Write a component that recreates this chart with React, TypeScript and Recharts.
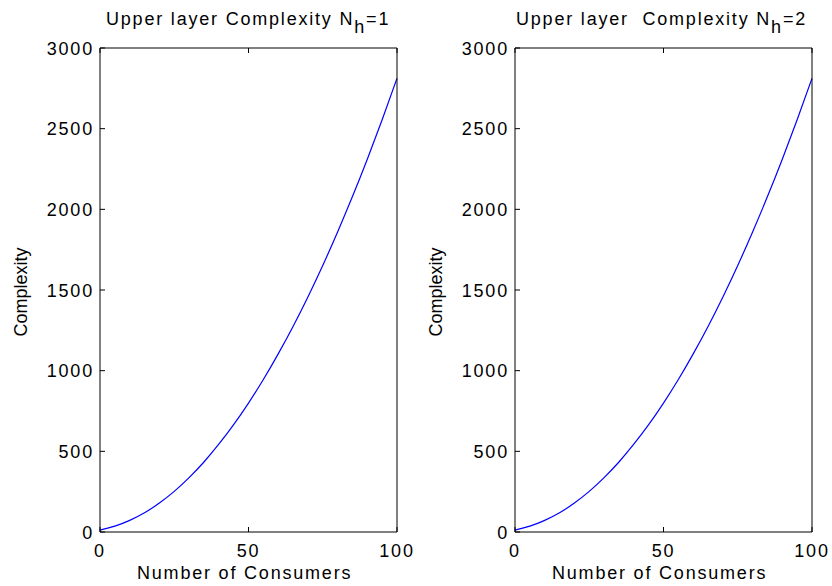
import { LineChart, Line, XAxis, YAxis } from "recharts";

const CONSUMERS = [0, 5, 10, 15, 20, 25, 30, 35, 40, 45, 50, 55, 60, 65, 70, 75, 80, 85, 90, 95, 100];
const COMPLEXITY_NH1 = [12, 36, 72, 119, 180, 252, 337, 434, 544, 665, 799, 945, 1104, 1274, 1457, 1652, 1860, 2079, 2311, 2555, 2812];
const COMPLEXITY_NH2 = [12, 36, 72, 119, 180, 252, 337, 434, 544, 665, 799, 945, 1104, 1274, 1457, 1652, 1860, 2079, 2311, 2555, 2812];
const X_TICKS = [0, 50, 100];
const Y_TICKS = [0, 500, 1000, 1500, 2000, 2500, 3000];

const FONT = '"Liberation Sans", Arial, Helvetica, sans-serif';
const W = 416;
const H = 586;

const txt = { fill: "#000", fontSize: 18, fontFamily: FONT, letterSpacing: 1.8 };

const XTick = ({ x, y, payload }: any) => (
    <text x={x} y={y + 13} textAnchor="middle" {...txt}>{payload.value}</text>
);

const YTick = ({ x, y, payload }: any) => (
    <text x={x} y={y + 6.5} textAnchor="end" {...txt}>{payload.value}</text>
);

const NoTick = () => <g />;

interface PanelProps {
    title: string;
    nh: string;
    values: number[];
    left: number;
    titleX: number;
}

function Panel({ title, nh, values, left, titleX }: PanelProps) {
    const data = CONSUMERS.map((n, i) => ({ n, c: values[i] }));
    return (
        <div style={{ position: "absolute", left, top: 0 }}>
            <LineChart width={W} height={H} data={data} margin={{ top: 47, right: 18, bottom: 24, left: 40 }}>
                <XAxis
                    dataKey="n"
                    type="number"
                    domain={[0, 100]}
                    ticks={X_TICKS}
                    height={30}
                    tickSize={-5}
                    tickMargin={17}
                    tick={<XTick />}
                    axisLine={{ stroke: "#000" }}
                    tickLine={{ stroke: "#000" }}
                    label={() => (
                        <text x={137} y={579} {...txt}>Number of Consumers</text>
                    )}
                />
                <XAxis
                    xAxisId="top"
                    orientation="top"
                    dataKey="n"
                    type="number"
                    domain={[0, 100]}
                    ticks={X_TICKS}
                    height={1}
                    tickSize={-5}
                    tick={NoTick}
                    axisLine={{ stroke: "#000" }}
                    tickLine={{ stroke: "#000" }}
                    label={() => (
                        <text x={titleX} y={25} {...txt} style={{ whiteSpace: "pre" }}>
                            {title}
                            <tspan dy={8}>h</tspan>
                            <tspan dy={-8}>{nh}</tspan>
                        </text>
                    )}
                />
                <YAxis
                    type="number"
                    domain={[0, 3000]}
                    ticks={Y_TICKS}
                    width={60}
                    tickSize={-5}
                    tickMargin={11}
                    tick={<YTick />}
                    axisLine={{ stroke: "#000" }}
                    tickLine={{ stroke: "#000" }}
                    label={() => (
                        <text x={27} y={292} textAnchor="middle" transform="rotate(-90 27 292)"
                            fill="#000" fontSize={18} fontFamily={FONT}>Complexity</text>
                    )}
                />
                <YAxis
                    yAxisId="right"
                    orientation="right"
                    type="number"
                    domain={[0, 3000]}
                    ticks={Y_TICKS}
                    width={1}
                    tickSize={-5}
                    tick={NoTick}
                    axisLine={{ stroke: "#000" }}
                    tickLine={{ stroke: "#000" }}
                />
                <Line type="monotone" dataKey="c" stroke="#0000ff" strokeWidth={1.2} dot={false} isAnimationActive={false} />
            </LineChart>
        </div>
    );
}

export default function App() {
    return (
        <div style={{ position: "absolute", left: 0, top: 0, width: 832, height: 586, background: "#fff" }}>
            <Panel title="Upper layer Complexity N" nh="=1" values={COMPLEXITY_NH1} left={0} titleX={106} />
            <Panel title="Upper layer  Complexity N" nh="=2" values={COMPLEXITY_NH2} left={415} titleX={101} />
        </div>
    );
}
